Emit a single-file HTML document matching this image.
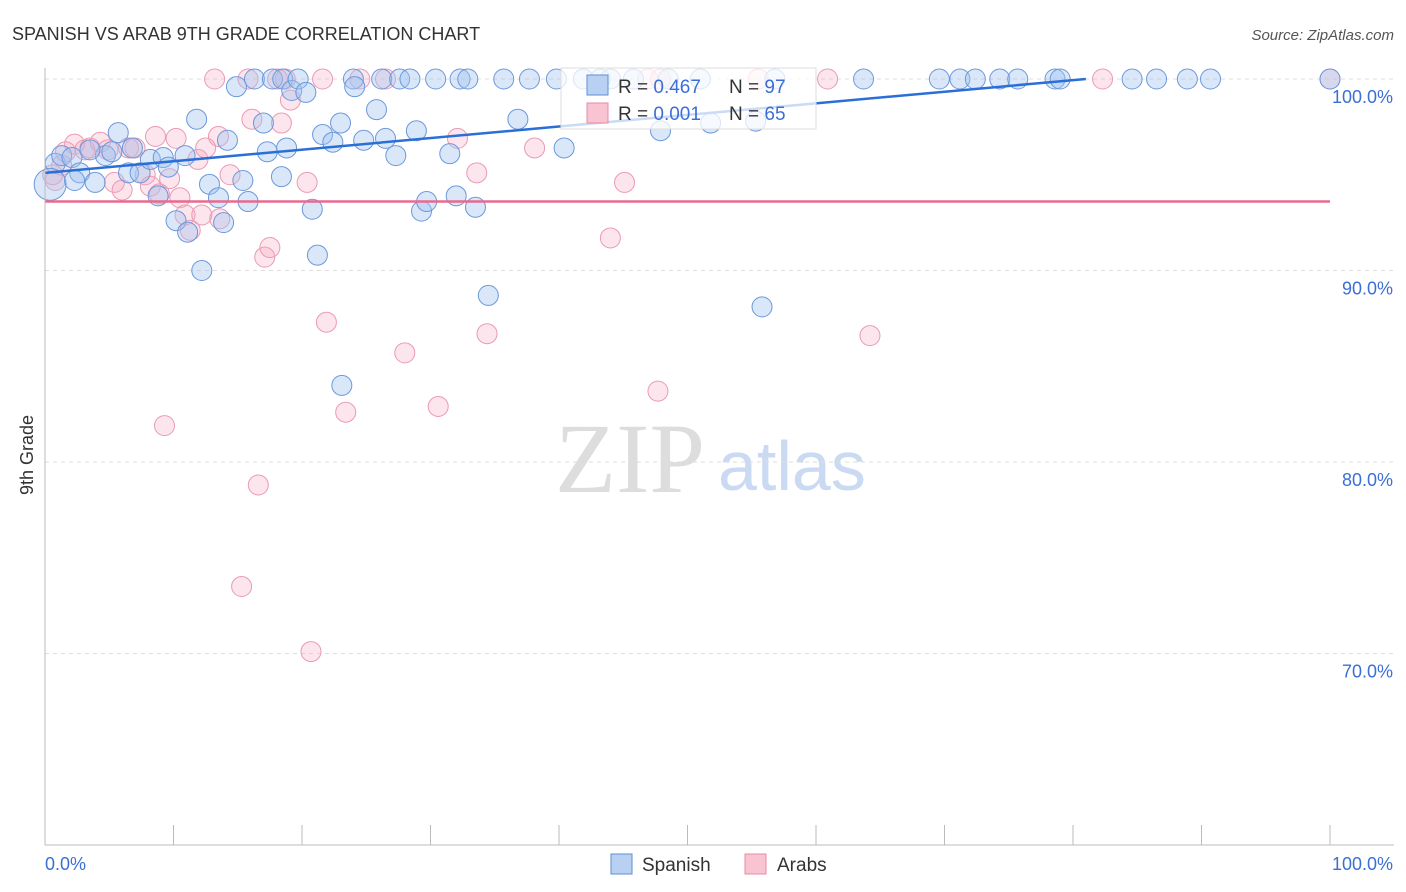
<!DOCTYPE html>
<html><head><meta charset="utf-8"><style>
body{margin:0;background:#fff;font-family:"Liberation Sans",sans-serif}
svg{display:block}
</style></head><body>
<svg width="1406" height="892" id="c">
<text x="12" y="40" font-size="18" fill="#333">SPANISH VS ARAB 9TH GRADE CORRELATION CHART</text>
<text x="1394" y="40" font-size="15" fill="#555" text-anchor="end" font-style="italic">Source: ZipAtlas.com</text>
<text x="555" y="492" font-size="100" fill="#ddd" font-family="Liberation Serif,serif">ZIP</text>
<text x="718" y="490" font-size="70" fill="#c9daf2">atlas</text>
<g id="grid"></g><g id="pts"></g><g id="lines"></g>
<line x1="45" y1="68" x2="45" y2="845" stroke="#bbb"/>
<line x1="45" y1="845" x2="1394" y2="845" stroke="#bbb"/>
<text transform="translate(33,455) rotate(-90)" font-size="18" fill="#333" text-anchor="middle">9th Grade</text>
<text x="45" y="870" font-size="18" fill="#3b6fd6">0.0%</text>
<text x="1393" y="870" font-size="18" fill="#3b6fd6" text-anchor="end">100.0%</text>
<g>
<rect x="561" y="68" width="255" height="61" fill="rgba(255,255,255,0.75)" stroke="#ddd"/>
<rect x="587" y="75" width="21" height="20" fill="#b8d0f2" stroke="#5b8fd6"/>
<text x="618" y="93" font-size="19" fill="#333">R = <tspan fill="#3b6fd6">0.467</tspan></text>
<text x="729" y="93" font-size="19" fill="#333">N = <tspan fill="#3b6fd6">97</tspan></text>
<rect x="587" y="103" width="21" height="20" fill="#f8c4d2" stroke="#e88aa6"/>
<text x="618" y="120" font-size="19" fill="#333">R = <tspan fill="#3b6fd6">0.001</tspan></text>
<text x="729" y="120" font-size="19" fill="#333">N = <tspan fill="#3b6fd6">65</tspan></text>
</g>
<g>
<rect x="611" y="854" width="21" height="20" fill="#b8d0f2" stroke="#5b8fd6"/>
<text x="642" y="871" font-size="19" fill="#333">Spanish</text>
<rect x="745" y="854" width="21" height="20" fill="#f8c4d2" stroke="#e88aa6"/>
<text x="777" y="871" font-size="19" fill="#333">Arabs</text>
</g>
</svg>
<script>
const yTicks=[100,90,80,70];
const yTickLabels=["100.0%","90.0%","80.0%","70.0%"];
const blueX=[0.8,1.3,2.1,2.7,3.9,4.7,5.2,5.7,6.5,6.8,7.4,8.2,8.8,9.2,9.6,10.2,10.9,11.1,11.8,12.2,12.8,13.5,13.9,14.2,14.9,15.4,15.8,16.3,17.0,17.3,17.7,18.5,19.2,19.7,20.3,18.8,18.4,20.8,21.2,21.6,22.4,23.0,23.1,24.0,24.1,24.8,25.8,26.2,26.5,27.3,27.6,28.4,28.9,29.3,29.7,30.4,31.5,32.0,32.3,32.9,33.5,34.5,35.7,36.8,37.7,39.8,40.4,41.9,43.2,44.0,45.8,47.9,48.5,51.0,51.8,55.3,55.8,56.8,63.7,69.6,71.2,72.4,74.3,75.7,78.6,79.0,84.6,86.5,88.9,90.7,100,0.4,2.3,3.5];
const blueY=[95.6,96.0,95.9,95.1,94.6,96.0,96.2,97.2,95.1,96.4,95.1,95.8,93.9,95.9,95.4,92.6,96.0,92.0,97.9,90.0,94.5,93.8,92.5,96.8,99.6,94.7,93.6,100,97.7,96.2,100,100,99.4,100,99.3,96.4,94.9,93.2,90.8,97.1,96.7,97.7,84.0,100,99.6,96.8,98.4,100,96.9,96.0,100,100,97.3,93.1,93.6,100,96.1,93.9,100,100,93.3,88.7,100,97.9,100,100,96.4,100,100,100,100,97.3,100,100,97.7,97.8,88.1,100,100,100,100,100,100,100,100,100,100,100,100,100,100,94.5,94.7,96.3];
const pinkX=[0.8,1.3,2.3,3.1,3.5,4.3,4.9,5.4,6.0,6.5,7.0,7.8,8.2,8.6,8.9,9.3,9.7,10.2,10.5,10.9,11.3,11.9,12.2,12.5,13.2,13.5,13.6,14.4,15.3,15.8,16.1,16.6,17.1,17.5,18.1,18.4,18.7,19.1,20.4,20.7,21.6,21.9,23.4,24.5,26.5,28.0,30.6,32.1,33.6,34.4,38.1,44.0,45.1,46.9,47.7,47.9,55.5,60.9,64.2,82.3,100,1.6,0.6];
const pinkY=[94.7,95.5,96.6,96.3,96.4,96.7,96.3,94.6,94.2,96.4,96.4,95.0,94.4,97.0,94.0,81.9,94.8,96.9,93.8,92.9,92.1,95.8,92.9,96.4,100,97.0,92.7,95.0,73.5,100,97.9,78.8,90.7,91.2,100,97.7,100,98.9,94.6,70.1,100,87.3,82.6,100,100,85.7,82.9,96.9,95.1,86.7,96.4,91.7,94.6,100,83.7,100,100,100,86.6,100,100,96.2,95.0];
const blueTrend=[[0,95.1],[81,100]];
const pinkTrend=[[0,93.6],[100,93.6]];
const NS="http://www.w3.org/2000/svg";
const sx=v=>45+v*12.85, sy=v=>79+(100-v)*19.15;
function mk(t,a,p){const e=document.createElementNS(NS,t);for(const k in a)e.setAttribute(k,a[k]);p.appendChild(e);return e;}
const grid=document.getElementById('grid');
yTicks.forEach((t,i)=>{
 const l=mk('line',{x1:45,x2:1394,y1:sy(t),y2:sy(t),stroke:'#ddd','stroke-dasharray':'4,4'},grid);
 
 
 const tx=mk('text',{x:1393,y:sy(t)+24,'font-size':18,fill:'#3b6fd6','text-anchor':'end'},grid);
 tx.textContent=yTickLabels[i];
 
 
});
for(let i=0;i<=10;i++){
 const l=mk('line',{x1:sx(i*10),x2:sx(i*10),y1:825,y2:845,stroke:'#bbb'},grid);
 
 
}
const pts=document.getElementById('pts');
pinkX.forEach((x,i)=>{
 const c=mk('circle',{cx:sx(x),cy:sy(pinkY[i]),r:10,fill:'rgba(244,170,192,0.3)',stroke:'#eb9ab3','stroke-width':1},pts);
 
 
});
blueX.forEach((x,i)=>{
 const c=mk('circle',{cx:sx(x),cy:sy(blueY[i]),r:i==91?16:10,fill:'rgba(160,196,240,0.4)',stroke:'#6b98dc','stroke-width':1},pts);
 
 
});
const lines=document.getElementById('lines');
const bl=mk('line',{x1:sx(blueTrend[0][0]),y1:sy(blueTrend[0][1]),x2:sx(blueTrend[1][0]),y2:sy(blueTrend[1][1]),stroke:'#2a6fd6','stroke-width':2.5},lines);


const pl=mk('line',{x1:sx(pinkTrend[0][0]),y1:sy(pinkTrend[0][1]),x2:sx(pinkTrend[1][0]),y2:sy(pinkTrend[1][1]),stroke:'#e86a90','stroke-width':2.5},lines);


</script>
</body></html>
